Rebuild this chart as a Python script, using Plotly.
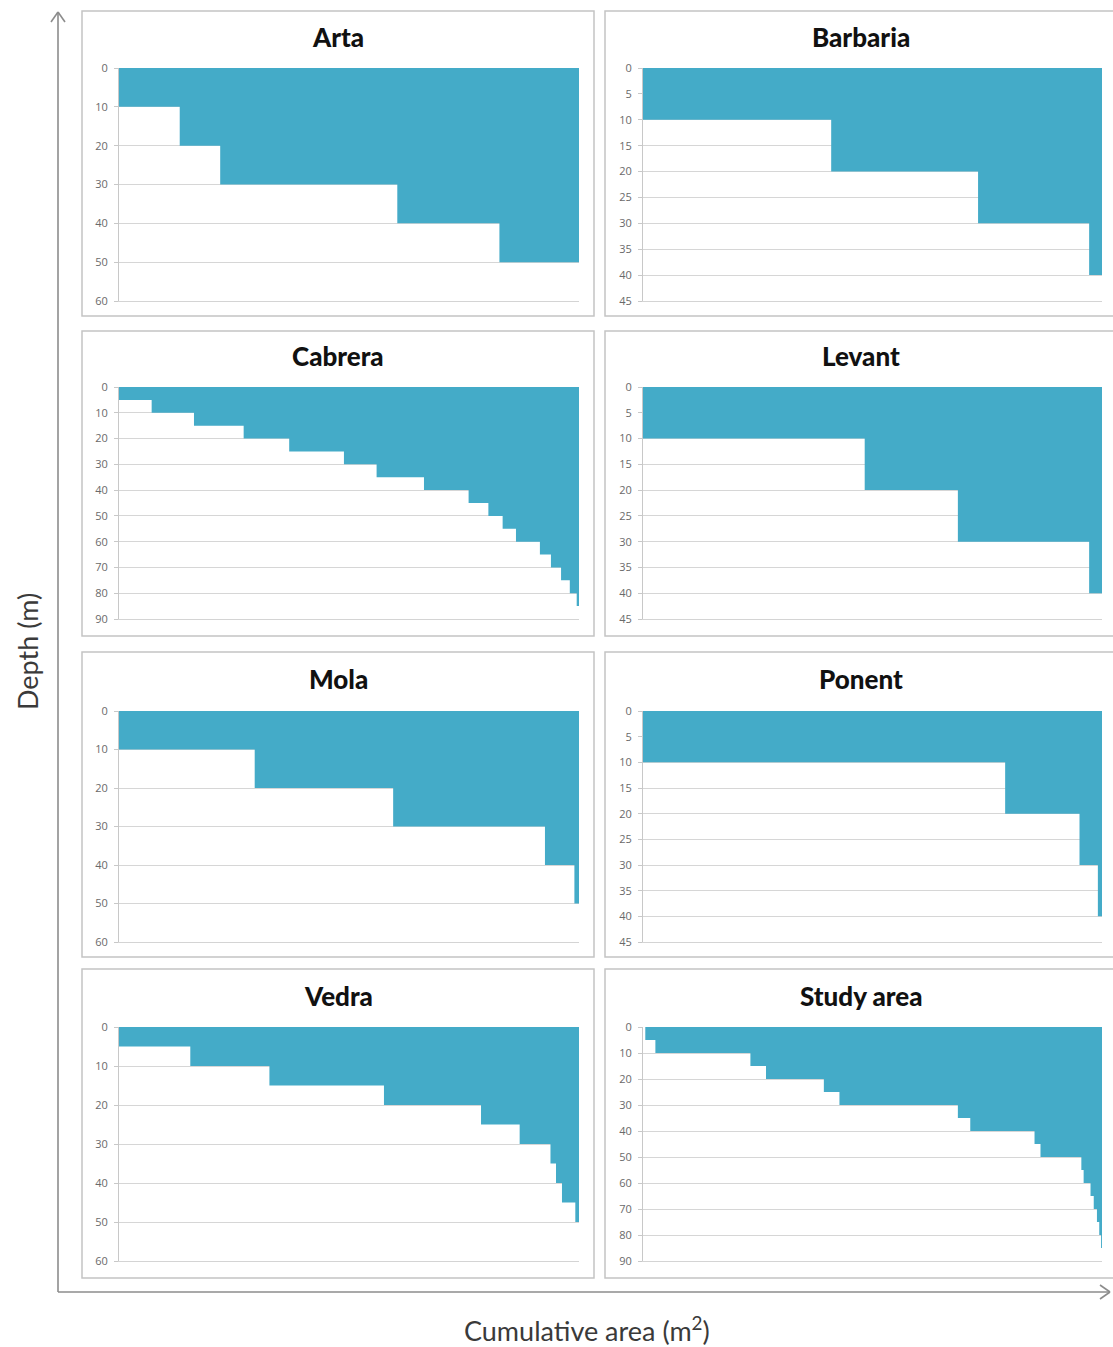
import plotly.graph_objects as go

W, H = 1113, 1347
BLUE = "#44ABC8"

# ---- data: depth levels (m) and cumulative area (% of total) at each level ----
sites = ["Arta", "Barbaria", "Cabrera", "Levant", "Mola", "Ponent", "Vedra", "Study area"]

arta_depth = [0, 10, 20, 30, 40, 50]
arta_area = [0, 13.2, 22.0, 60.5, 82.7, 100]

barbaria_depth = [0, 10, 20, 30, 40]
barbaria_area = [0, 41.0, 73.0, 97.2, 100]

cabrera_depth = [0, 5, 10, 15, 20, 25, 30, 35, 40, 45, 50, 55, 60, 65, 70, 75, 80, 85]
cabrera_area = [0, 7.1, 16.3, 27.1, 37.0, 48.9, 56.0, 66.3, 76.0, 80.3, 83.4, 86.3,
                91.5, 93.9, 96.1, 98.0, 99.5, 100]

levant_depth = [0, 10, 20, 30, 40]
levant_area = [0, 48.3, 68.6, 97.2, 100]

mola_depth = [0, 10, 20, 30, 40, 50]
mola_area = [0, 29.5, 59.6, 92.6, 99.0, 100]

ponent_depth = [0, 10, 20, 30, 40]
ponent_area = [0, 78.9, 95.1, 99.1, 100]

vedra_depth = [0, 5, 10, 15, 20, 25, 30, 35, 40, 45, 50]
vedra_area = [0, 15.5, 32.7, 57.6, 78.7, 87.1, 93.8, 95.0, 96.3, 99.2, 100]

study_depth = [0, 5, 10, 15, 20, 25, 30, 35, 40, 45, 50, 55, 60, 65, 70, 75, 80, 85]
study_area = [0.5, 2.7, 23.4, 26.8, 39.4, 42.8, 68.6, 71.3, 85.3, 86.6, 95.5, 96.0,
              97.5, 98.2, 98.9, 99.4, 99.8, 100]

depths = [arta_depth, barbaria_depth, cabrera_depth, levant_depth,
          mola_depth, ponent_depth, vedra_depth, study_depth]
areas = [arta_area, barbaria_area, cabrera_area, levant_area,
         mola_area, ponent_area, vedra_area, study_area]

axis_max = [60, 45, 90, 45, 60, 45, 60, 90]
axis_step = [10, 5, 10, 5, 10, 5, 10, 10]


def px_x(v):
    return v / W


def px_y(v):
    return 1 - v / H


# layout geometry (pixels)
col_plot = [(119, 579), (643, 1102)]
row_plot = [(68, 301), (387, 619), (711, 942), (1027, 1261)]
col_box = [(82, 594), (605, 1125)]
row_box = [(11, 316), (331, 636), (652, 957), (969, 1278)]
title_y = [37, 356, 679, 996]
col_title_x = [338, 861]

fig = go.Figure()
layout = dict(
    width=W, height=H,
    margin=dict(l=0, r=0, t=0, b=0, pad=0),
    paper_bgcolor="white", plot_bgcolor="white",
    showlegend=False,
)
shapes = []
annotations = []

for i, name in enumerate(sites):
    r, c = divmod(i, 2)
    ax = "" if i == 0 else str(i + 1)
    xa = "xaxis" + ax
    ya = "yaxis" + ax
    d = depths[i]
    a = areas[i]
    xs = list(a) + [max(a)]
    ys = list(d) + [d[0]]
    fig.add_trace(go.Scatter(
        x=xs, y=ys, mode="lines", line=dict(width=0, shape="vh"),
        fill="toself", fillcolor=BLUE, hoverinfo="skip",
        xaxis="x" + ax, yaxis="y" + ax,
    ))
    x0, x1 = col_plot[c]
    y0, y1 = row_plot[r]
    layout[xa] = dict(
        domain=[px_x(x0), px_x(x1)], range=[0, 100], anchor="y" + ax,
        showgrid=False, zeroline=False, showticklabels=False, ticks="",
        showline=True, linecolor="#D4D4D4", linewidth=1,
        fixedrange=True, automargin=False,
    )
    layout[ya] = dict(
        domain=[px_y(y1), px_y(y0)], range=[axis_max[i], 0], anchor="x" + ax,
        tickmode="linear", tick0=0, dtick=axis_step[i],
        showgrid=True, gridcolor="#D6D6D6", gridwidth=1,
        zeroline=False, showline=True, linecolor="#C8C8C8", linewidth=1,
        ticks="outside", ticklen=4, tickcolor="#C8C8C8",
        tickfont=dict(family="Open Sans, sans-serif", size=11, color="#6A6A6A"),
        ticklabelstandoff=4,
        fixedrange=True, automargin=False,
    )
    bx0, bx1 = col_box[c]
    by0, by1 = row_box[r]
    shapes.append(dict(
        type="rect", xref="paper", yref="paper",
        x0=px_x(bx0), x1=px_x(bx1), y0=px_y(by1), y1=px_y(by0),
        line=dict(color="#C4C4C4", width=1.5), layer="below",
    ))
    annotations.append(dict(
        text=name, xref="paper", yref="paper",
        x=px_x(col_title_x[c]), y=px_y(title_y[r]),
        xanchor="center", yanchor="middle", showarrow=False,
        font=dict(family="Lato, sans-serif", size=26, weight=900, color="#111111"),
    ))

# outer axes with open arrowheads
AX_COL = "#8C8C8C"
ox, oy = 58, 1292
top_y, right_x = 12, 1110
shapes += [
    dict(type="line", xref="paper", yref="paper", x0=px_x(ox), x1=px_x(ox),
         y0=px_y(oy), y1=px_y(top_y), line=dict(color=AX_COL, width=1.6)),
    dict(type="line", xref="paper", yref="paper", x0=px_x(ox), x1=px_x(right_x),
         y0=px_y(oy), y1=px_y(oy), line=dict(color=AX_COL, width=1.6)),
    dict(type="line", xref="paper", yref="paper", x0=px_x(ox - 7), x1=px_x(ox),
         y0=px_y(top_y + 10), y1=px_y(top_y), line=dict(color=AX_COL, width=1.6)),
    dict(type="line", xref="paper", yref="paper", x0=px_x(ox + 7), x1=px_x(ox),
         y0=px_y(top_y + 10), y1=px_y(top_y), line=dict(color=AX_COL, width=1.6)),
    dict(type="line", xref="paper", yref="paper", x0=px_x(right_x - 10), x1=px_x(right_x),
         y0=px_y(oy - 7), y1=px_y(oy), line=dict(color=AX_COL, width=1.6)),
    dict(type="line", xref="paper", yref="paper", x0=px_x(right_x - 10), x1=px_x(right_x),
         y0=px_y(oy + 7), y1=px_y(oy), line=dict(color=AX_COL, width=1.6)),
]

annotations += [
    dict(text="Depth (m)", xref="paper", yref="paper", x=px_x(27), y=px_y(652),
         xanchor="center", yanchor="middle", showarrow=False, textangle=-90,
         font=dict(family="Lato, sans-serif", size=27, color="#3A3A3A")),
    dict(text="Cumulative area (m<sup>2</sup>)", xref="paper", yref="paper",
         x=px_x(587), y=px_y(1329), xanchor="center", yanchor="middle",
         showarrow=False,
         font=dict(family="Lato, sans-serif", size=27, color="#3A3A3A")),
]

layout["shapes"] = shapes
layout["annotations"] = annotations
fig.update_layout(**layout)
fig.write_html(
    "out.html",
    config={"displayModeBar": False},
    post_script=(
        "document.documentElement.style.margin='0';"
        "document.documentElement.style.overflow='hidden';"
        "document.body.style.margin='0';document.body.style.padding='0';"
        "document.body.style.overflow='hidden';"
    ),
)
